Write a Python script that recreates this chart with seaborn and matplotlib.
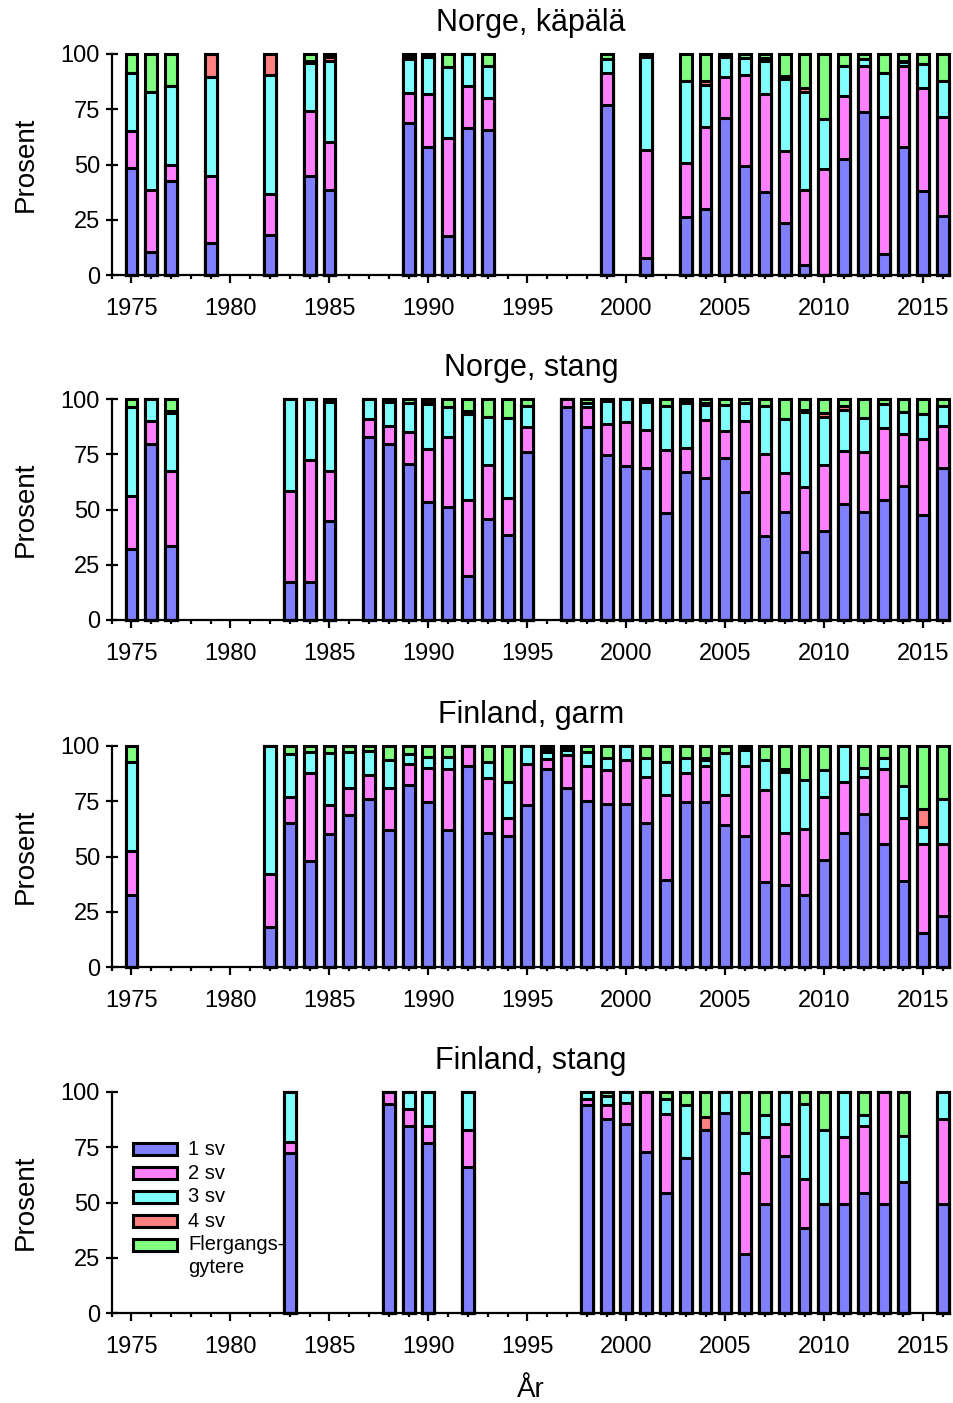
import numpy as np
import matplotlib
matplotlib.use("Agg")
import matplotlib.pyplot as plt
from matplotlib.patches import Rectangle
import seaborn as sns

# ---------------- data ----------------
SERIES = ["1 sv", "2 sv", "3 sv", "4 sv", "Flergangs-"]
COLORS = ["#8080FF", "#FF80FF", "#80FFFF", "#FF8080", "#80FF80"]
TITLES = ["Norge, käpälä", "Norge, stang", "Finland, garm", "Finland, stang"]
X_MAJOR = [1975, 1980, 1985, 1990, 1995, 2000, 2005, 2010, 2015]
Y_TICKS = [0, 25, 50, 75, 100]

# Norge, käpälä
nk_years = [1975, 1976, 1977, 1979, 1982, 1984, 1985, 1989, 1990, 1991, 1992, 1993, 1999, 2001,
            2003, 2004, 2005, 2006, 2007, 2008, 2009, 2010, 2011, 2012, 2013, 2014, 2015, 2016]
nk_sv1 = [48.5, 10.6, 42.4, 14.4, 18.2, 44.7, 38.6, 68.6, 58.0, 17.7, 66.4, 65.5, 76.8, 7.6,
          26.2, 30.0, 70.9, 49.2, 37.4, 23.5, 4.5, 0.0, 52.3, 73.8, 9.4, 58.0, 37.9, 26.5]
nk_sv2 = [16.7, 27.7, 7.3, 30.3, 18.6, 29.5, 21.7, 13.7, 23.8, 44.1, 19.2, 14.5, 14.4, 48.9,
          24.3, 37.1, 18.9, 41.3, 44.4, 32.6, 33.8, 48.0, 28.5, 20.9, 62.1, 36.7, 46.5, 45.2]
nk_sv3 = [26.0, 44.7, 35.9, 45.1, 53.8, 21.7, 36.7, 15.4, 16.7, 32.4, 14.4, 14.4, 6.5, 42.3,
          37.4, 19.0, 8.7, 7.5, 15.2, 32.8, 44.6, 22.5, 13.6, 3.0, 19.7, 1.5, 11.1, 16.2]
nk_sv4 = [0.0, 0.0, 0.0, 10.2, 9.4, 0.8, 1.5, 1.0, 0.5, 0.0, 0.0, 0.0, 0.0, 0.6,
          0.0, 1.8, 0.0, 0.0, 1.0, 1.0, 1.9, 0.0, 0.0, 0.0, 0.0, 0.8, 0.0, 0.0]
nk_fl = [8.8, 17.0, 14.4, 0.0, 0.0, 3.3, 1.5, 1.3, 1.0, 5.8, 0.0, 5.6, 2.3, 0.6,
         12.1, 12.1, 1.5, 2.0, 2.0, 10.1, 15.2, 29.5, 5.6, 2.3, 8.8, 3.0, 4.5, 12.1]

# Norge, stang
ns_years = [1975, 1976, 1977, 1983, 1984, 1985, 1987, 1988, 1989, 1990, 1991, 1992, 1993, 1994,
            1995, 1997, 1998, 1999, 2000, 2001, 2002, 2003, 2004, 2005, 2006, 2007, 2008, 2009,
            2010, 2011, 2012, 2013, 2014, 2015, 2016]
ns_sv1 = [32.1, 79.8, 33.3, 17.0, 17.4, 45.0, 82.9, 79.8, 70.8, 53.5, 51.2, 19.7, 45.9, 38.6,
          75.8, 96.5, 87.4, 74.7, 69.7, 68.9, 48.5, 67.0, 64.4, 73.2, 57.9, 37.9, 48.9, 30.8,
          40.2, 52.6, 48.9, 54.5, 60.6, 47.3, 68.9]
ns_sv2 = [24.0, 10.4, 34.1, 41.3, 54.9, 22.4, 8.0, 8.1, 14.4, 24.1, 31.4, 34.8, 24.3, 16.7,
          11.6, 3.5, 8.8, 14.2, 20.0, 17.2, 28.5, 11.0, 26.2, 12.4, 32.3, 37.4, 17.5, 29.4,
          30.0, 23.9, 27.2, 32.6, 23.5, 34.5, 19.0]
ns_sv3 = [40.1, 9.8, 26.2, 41.7, 27.7, 31.1, 9.1, 10.6, 13.0, 20.1, 13.6, 38.7, 21.8, 35.9,
          9.3, 0.0, 2.0, 10.0, 10.3, 12.7, 19.7, 20.2, 6.8, 11.7, 7.8, 21.7, 24.5, 33.8,
          21.8, 18.7, 15.1, 10.6, 10.1, 11.4, 9.1]
ns_sv4 = [0.0, 0.0, 1.1, 0.0, 0.0, 0.5, 0.0, 0.5, 0.0, 1.0, 0.0, 1.5, 0.0, 0.0,
          0.0, 0.0, 0.0, 0.0, 0.0, 0.5, 0.0, 0.8, 1.0, 0.0, 0.0, 0.0, 0.0, 1.0,
          1.6, 1.5, 0.0, 0.0, 0.0, 0.0, 0.0]
ns_fl = [3.8, 0.0, 5.3, 0.0, 0.0, 1.0, 0.0, 1.0, 1.8, 1.3, 3.8, 5.3, 8.0, 8.8,
         3.3, 0.0, 1.8, 1.1, 0.0, 0.7, 3.3, 1.0, 1.6, 2.7, 2.0, 3.0, 9.1, 5.0,
         6.4, 3.3, 8.8, 2.3, 5.8, 6.8, 3.0]

# Finland, garm
fg_years = [1975, 1982, 1983, 1984, 1985, 1986, 1987, 1988, 1989, 1990, 1991, 1992, 1993, 1994,
            1995, 1996, 1997, 1998, 1999, 2000, 2001, 2002, 2003, 2004, 2005, 2006, 2007, 2008,
            2009, 2010, 2011, 2012, 2013, 2014, 2015, 2016]
fg_sv1 = [32.6, 18.3, 65.2, 47.9, 60.0, 68.6, 76.2, 62.1, 82.3, 74.7, 61.8, 90.9, 60.8, 59.5,
          73.2, 89.8, 80.8, 75.2, 73.9, 73.9, 65.2, 39.4, 74.7, 74.7, 64.1, 59.5, 38.3, 37.1,
          32.6, 48.6, 60.8, 69.4, 55.8, 38.8, 15.3, 23.2]
fg_sv2 = [20.1, 23.8, 11.8, 40.0, 13.2, 12.2, 10.6, 19.0, 9.5, 15.5, 28.0, 9.1, 24.5, 8.1,
          18.5, 4.3, 15.1, 15.7, 15.2, 19.7, 20.9, 38.3, 13.2, 16.2, 13.6, 31.4, 42.0, 23.7,
          30.0, 28.4, 23.0, 16.7, 33.6, 28.8, 40.2, 32.6]
fg_sv3 = [40.2, 57.9, 19.4, 9.5, 23.5, 16.6, 10.9, 12.5, 4.6, 5.0, 5.0, 0.0, 7.3, 16.2,
          8.3, 3.4, 2.3, 6.5, 5.3, 6.4, 8.6, 15.2, 6.5, 2.7, 19.3, 7.3, 13.3, 27.5,
          22.2, 12.1, 16.2, 4.1, 5.0, 14.2, 7.8, 20.0]
fg_sv4 = [0.0, 0.0, 0.0, 0.0, 0.0, 0.0, 0.0, 0.0, 0.0, 0.0, 0.0, 0.0, 0.0, 0.0,
          0.0, 1.0, 1.0, 0.0, 0.0, 0.0, 0.0, 0.0, 0.0, 1.0, 0.0, 0.8, 0.0, 1.5,
          0.0, 0.0, 0.0, 0.0, 0.0, 0.0, 8.1, 0.0]
fg_fl = [7.1, 0.0, 3.6, 2.6, 3.3, 2.6, 2.3, 6.4, 3.6, 4.8, 5.2, 0.0, 7.4, 16.2,
         0.0, 1.5, 0.8, 2.6, 5.6, 0.0, 5.3, 7.1, 5.6, 5.4, 3.0, 1.0, 6.4, 10.2,
         15.2, 10.9, 0.0, 9.8, 5.6, 18.2, 28.6, 24.2]

# Finland, stang
fs_years = [1983, 1988, 1989, 1990, 1992, 1998, 1999, 2000, 2001, 2002, 2003, 2004, 2005, 2006,
            2007, 2008, 2009, 2010, 2011, 2012, 2013, 2014, 2016]
fs_sv1 = [72.3, 94.4, 84.4, 76.8, 66.2, 94.2, 87.9, 85.6, 72.7, 54.5, 70.2, 82.9, 90.6, 26.5,
          49.5, 71.2, 38.3, 49.5, 49.5, 54.5, 49.5, 59.5, 49.5]
fs_sv2 = [5.0, 5.6, 7.7, 7.6, 16.7, 2.5, 6.0, 9.6, 27.3, 35.7, 0.0, 0.0, 0.0, 36.8,
          30.3, 14.4, 22.3, 0.0, 30.3, 30.3, 50.5, 0.0, 38.1]
fs_sv3 = [22.7, 0.0, 7.9, 15.6, 17.1, 3.3, 4.3, 4.8, 0.0, 6.8, 23.7, 0.0, 9.4, 18.2,
          10.0, 14.4, 34.1, 33.5, 20.2, 5.0, 0.0, 20.5, 12.4]
fs_sv4 = [0.0, 0.0, 0.0, 0.0, 0.0, 0.0, 0.0, 0.0, 0.0, 0.0, 0.0, 5.7, 0.0, 0.0,
          0.0, 0.0, 0.0, 0.0, 0.0, 0.0, 0.0, 0.0, 0.0]
fs_fl = [0.0, 0.0, 0.0, 0.0, 0.0, 0.0, 1.8, 0.0, 0.0, 3.0, 6.1, 11.4, 0.0, 18.5,
         10.2, 0.0, 5.3, 17.0, 0.0, 10.2, 0.0, 20.0, 0.0]

PANELS = [
    (nk_years, [nk_sv1, nk_sv2, nk_sv3, nk_sv4, nk_fl]),
    (ns_years, [ns_sv1, ns_sv2, ns_sv3, ns_sv4, ns_fl]),
    (fg_years, [fg_sv1, fg_sv2, fg_sv3, fg_sv4, fg_fl]),
    (fs_years, [fs_sv1, fs_sv2, fs_sv3, fs_sv4, fs_fl]),
]

# ---------------- style ----------------
sns.set_style("ticks")
plt.rcParams["font.family"] = ["Liberation Sans", "DejaVu Sans"]
plt.rcParams["text.color"] = "black"
plt.rcParams["axes.labelcolor"] = "black"
plt.rcParams["xtick.color"] = "black"
plt.rcParams["ytick.color"] = "black"
plt.rcParams["axes.edgecolor"] = "black"

W, H = 954, 1403
fig = plt.figure(figsize=(W / 100, H / 100), dpi=100)

ax_left = 111.7 / W
ax_width = (950 - 111.7) / W
ax_height = 221 / H
bottoms_px = [275, 620, 967, 1313]

for i, ((years, layers), title) in enumerate(zip(PANELS, TITLES)):
    ax = fig.add_axes([ax_left, 1 - bottoms_px[i] / H, ax_width, ax_height])
    yrs = np.array(years)
    cum = np.cumsum(np.array(layers, dtype=float), axis=0)
    for k in range(4, -1, -1):
        sns.barplot(x=yrs, y=cum[k], native_scale=True, orient="x",
                    color=COLORS[k], saturation=1, width=0.6,
                    edgecolor="black", linewidth=2.2, errorbar=None, ax=ax)
    for p in ax.patches:
        p.set_clip_on(False)

    ax.set_xlim(1974, 2016.35)
    ax.set_ylim(0, 100)
    ax.set_xticks(X_MAJOR)
    ax.set_xticks(list(range(1974, 2017)), minor=True)
    ax.set_yticks(Y_TICKS)
    ax.set_xticklabels([str(v) for v in X_MAJOR])
    ax.tick_params(axis="x", which="major", direction="out", length=5.5, width=1.6,
                   labelsize=17, pad=11, color="black", labelcolor="black")
    ax.tick_params(axis="x", which="minor", direction="out", length=3.2, width=1.6,
                   color="black")
    ax.tick_params(axis="y", which="major", direction="inout", length=8, width=1.6,
                   labelsize=17, pad=4.5, color="black", labelcolor="black")
    for s in ["left", "bottom"]:
        ax.spines[s].set_linewidth(1.6)
        ax.spines[s].set_color("black")
    sns.despine(ax=ax)
    ax.set_xlabel("")
    ax.set_ylabel("Prosent", fontsize=20, color="black")
    ax.yaxis.set_label_coords(-0.087, 0.5)
    ax.set_title(title, fontsize=22, pad=16.5, color="black")

    if i == 3:
        legend_y = [0.742, 0.633, 0.525, 0.416, 0.308]
        for k in range(5):
            ax.add_patch(Rectangle((0.0254, legend_y[k] - 0.027), 0.0525, 0.054,
                                   transform=ax.transAxes, facecolor=COLORS[k],
                                   edgecolor="black", linewidth=2.2, clip_on=False))
            ax.text(0.091, legend_y[k], SERIES[k], transform=ax.transAxes,
                    fontsize=14.5, ha="left", va="center", color="black")
        ax.text(0.091, 0.204, "gytere", transform=ax.transAxes,
                fontsize=14.5, ha="left", va="center", color="black")

fig.text(531 / W, 1 - 1390 / H, "År", fontsize=20, ha="center", va="center", color="black")

fig.savefig("out.png", dpi=100)
